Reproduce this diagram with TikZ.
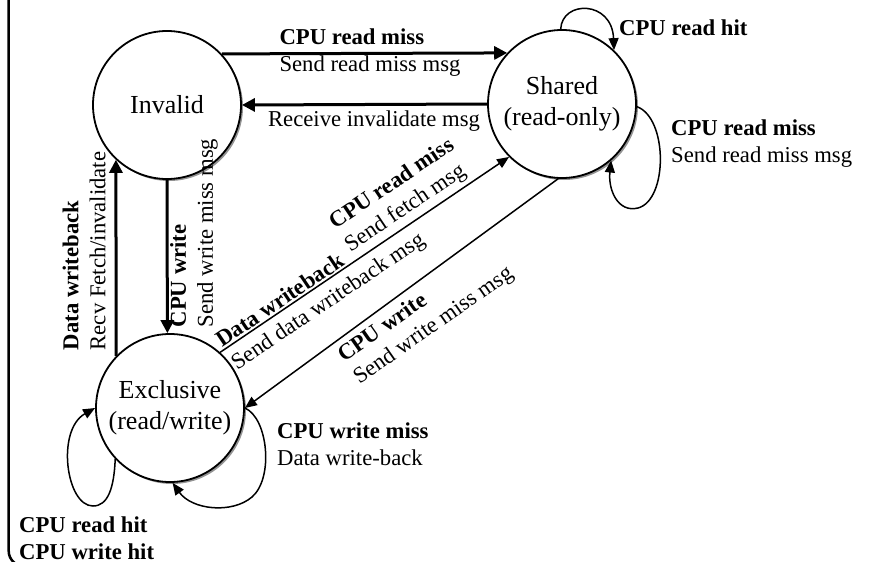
\documentclass[tikz,border=0pt]{standalone}
\usepackage{fontspec}
\setmainfont{Liberation Serif}
\usetikzlibrary{arrows.meta,shadows}
\begin{document}
\begin{tikzpicture}[x=1pt,y=-1pt,
  state/.style={circle, draw, line width=1.8pt, minimum size=148pt, inner sep=0pt, fill=white,
    drop shadow={shadow xshift=2pt,shadow yshift=-2pt,fill=black!60,opacity=0.7},
    font=\fontsize{26}{31}\selectfont, align=center},
  lbl/.style={font=\fontsize{22.7}{27}\selectfont, align=left, inner sep=0pt},
  thickarrow/.style={line width=3pt, -{Triangle[length=13pt,width=13pt]}},
  thinarrow/.style={line width=1.5pt, -{Triangle[length=12pt,width=10pt]}},
  selfloop/.style={line width=1.5pt, -{Triangle[length=12pt,width=10pt]}}]

\useasboundingbox (0,0) rectangle (870,562);
\fill[white] (0,0) rectangle (870,562);
\clip (0,0) rectangle (870,562);

\node[anchor=base west, inner sep=0pt, font=\fontsize{50}{60}\selectfont\bfseries] (title) at (69.5,-15) {Directory protocol};
\draw[line width=2.5pt, rounded corners=15pt] (8.7,-20) -- (8.7,566) -- (120,566);

\node[state] (inv) at (167,105) {Invalid};
\node[state] (sh) at (562,104) {Shared\\(read-only)};
\node[state] (exc) at (170,408) {Exclusive\\(read/write)};

\draw[thickarrow] (inv.43.6) -- (sh.137.5);
\draw[thickarrow] (sh.west) -- (inv.east);
\draw[thickarrow] (inv.south) -- (exc.92);
\draw[thickarrow] (exc.136.9) -- (inv.-133.6);
\draw[thinarrow] (exc.48.3) -- (sh.225.5);
\draw[thinarrow] (sh.-93) -- (exc.east);

\draw[selfloop] (sh.91) .. controls (562,0) and (612,0) .. (sh.46);
\draw[selfloop] (sh.-2) .. controls (668,118) and (668,200) .. (638,208) .. controls (618,213) and (608,190) .. (sh.-49);
\draw[selfloop] (exc.east) .. controls (268,418) and (274,478) .. (252,497) .. controls (232,514) and (192,510) .. (exc.-88);
\draw[selfloop] (exc.223) .. controls (114,488) and (108,506) .. (93,506) .. controls (66,506) and (56,430) .. (exc.west);

\node[lbl] (l1) at (370,53) {\textbf{CPU read miss}\\Send read miss msg};
\node[lbl] (l2) at (374,121) {Receive invalidate msg};
\node[lbl, rotate=90] (l3) at (194,233) {\textbf{CPU write}\\Send write miss msg};
\node[lbl, rotate=90] (l4) at (84,251) {\textbf{Data writeback}\\Recv Fetch/invalidate};
\node[lbl, rotate=34] (l5) at (400,196) {\textbf{CPU read miss}\\Send fetch msg};
\node[lbl, rotate=34] (l6) at (321,291) {\textbf{Data writeback}\\Send data writeback msg};
\node[lbl, rotate=35] (l7) at (426,315) {\textbf{CPU write}\\Send write miss msg};
\node[lbl, anchor=west] (l8) at (619,28) {\textbf{CPU read hit}};
\node[lbl, anchor=west] (l9) at (671,143.5) {\textbf{CPU read miss}\\Send read miss msg};
\node[lbl, anchor=west] (l10) at (277,444) {\textbf{CPU write miss}\\Data write-back};
\node[lbl, anchor=west] (l11) at (19,538.5) {\textbf{CPU read hit}\\\textbf{CPU write hit}};
\end{tikzpicture}
\end{document}
